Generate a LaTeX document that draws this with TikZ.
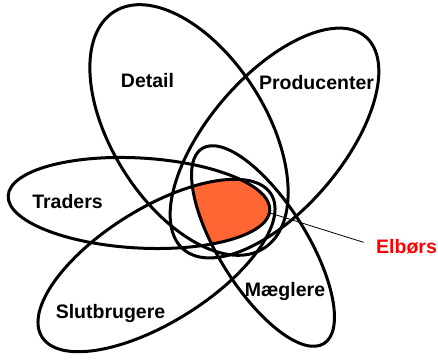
\documentclass[tikz,border=0pt]{standalone}
\usepackage{fontspec}
\setmainfont{Liberation Sans}
\usepackage{tikz}
\usetikzlibrary{positioning}
\definecolor{elorange}{RGB}{255,102,51}
\definecolor{elred}{RGB}{255,0,0}

\begin{document}
\begin{tikzpicture}[x=1pt, y=-1pt,
  ring/.style={draw=black, line width=3pt},
  lbl/.style={font=\fontsize{19.5}{22}\selectfont\bfseries, anchor=base, inner sep=0pt},
  pointer/.style={draw=black, line width=0.8pt}
]
\useasboundingbox (0,0) rectangle (438,359);

% centres of the five groups
\coordinate (cdet)  at (189,130);
\coordinate (cprod) at (274.5,143);
\coordinate (ctrad) at (139,203);
\coordinate (cslut) at (156.5,265.5);
\coordinate (cmaeg) at (263,246);

% Elbørs: where all five overlap
\begin{scope}
  \clip[rotate around={-3.2:(ctrad)}] (ctrad) ellipse [x radius=131, y radius=45];
  \clip[rotate around={31.9:(cslut)}] (cslut) ellipse [x radius=135, y radius=57];
  \clip[rotate around={-58:(cmaeg)}]  (cmaeg) ellipse [x radius=115, y radius=44];
  \clip[rotate around={-57.7:(cdet)}] (cdet)  ellipse [x radius=140, y radius=77];
  \clip[rotate around={49.4:(cprod)}] (cprod) ellipse [x radius=140, y radius=67];
  \fill[elorange] (0,0) rectangle (438,359);
\end{scope}

\draw[ring, rotate around={-57.7:(cdet)}] (cdet)  ellipse [x radius=140, y radius=77];
\draw[ring, rotate around={49.4:(cprod)}] (cprod) ellipse [x radius=140, y radius=67];
\draw[ring, rotate around={-3.2:(ctrad)}] (ctrad) ellipse [x radius=131, y radius=45];
\draw[ring, rotate around={31.9:(cslut)}] (cslut) ellipse [x radius=135, y radius=57];
\draw[ring, rotate around={-58:(cmaeg)}]  (cmaeg) ellipse [x radius=115, y radius=44];

\node[lbl] (detail) at (147.5,87)  {Detail};
\node[lbl] (prod)   at (316.5,89)  {Producenter};
\node[lbl] (trad)   at (67.5,208)  {Traders};
\node[lbl] (slut)   at (110.5,318) {Slutbrugere};
\node[lbl] (maeg)   at (285,296)   {Mæglere};
\node[lbl, text=elred, anchor=base west] (elbors) at (376,253) {Elbørs};

\coordinate (tip) at (270,213);
\draw[pointer, shorten >=13pt] (tip) -- (elbors.west);
\end{tikzpicture}
\end{document}
